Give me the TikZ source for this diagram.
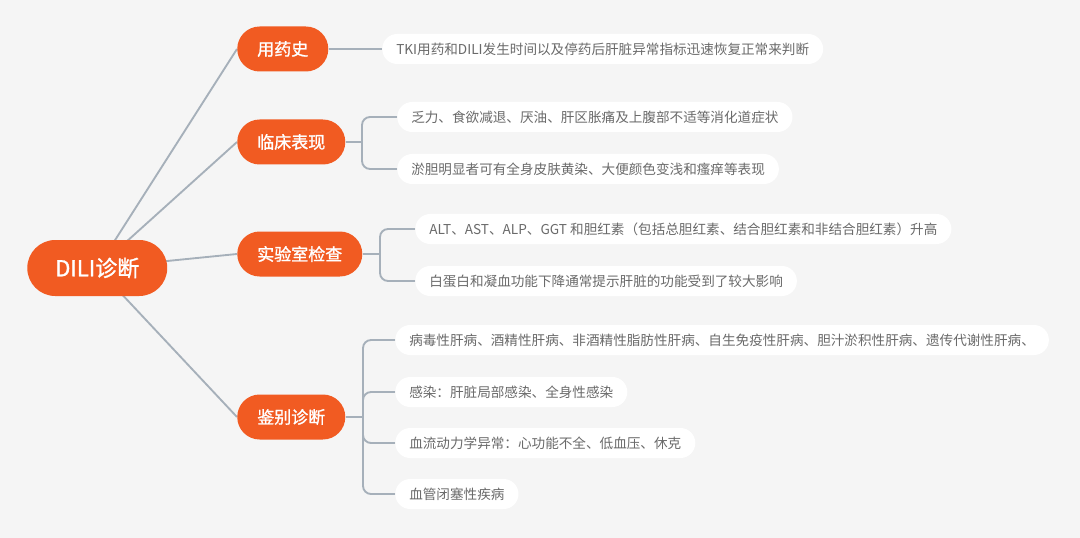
\documentclass[tikz,border=0pt]{standalone}
\usepackage{fontspec}
\setmainfont{Noto Sans CJK SC}
\newfontfamily\cjkbold[FakeBold=1.3]{Noto Sans CJK SC}
\usetikzlibrary{positioning}
\definecolor{bgc}{HTML}{F5F5F5}
\definecolor{org}{HTML}{F15B22}
\definecolor{lnc}{HTML}{A6B0BA}
\definecolor{txc}{HTML}{6A6A6A}
\pgfdeclarelayer{back}
\pgfdeclarelayer{bg}
\pgfsetlayers{back,bg,main}
\tikzset{
  rootbox/.style={rectangle, rounded corners=21pt, fill=org, text=white, font=\cjkbold\fontsize{16.5}{19}\selectfont, minimum height=42pt, inner xsep=21pt, inner ysep=0pt, anchor=west},
  branchbox/.style={rectangle, rounded corners=16.8pt, fill=org, text=white, font=\cjkbold\fontsize{12.75}{15}\selectfont, minimum height=33.75pt, inner xsep=15pt, inner ysep=0pt, anchor=west},
  leafbox/.style={rectangle, rounded corners=11.2pt, fill=white, text=txc, font=\fontsize{10.2}{12}\selectfont, minimum height=22.5pt, inner xsep=10.5pt, inner ysep=0pt, anchor=west},
  conn/.style={draw=lnc, line width=1.4pt},
}
\begin{document}
\begin{tikzpicture}[x=0.75pt,y=-0.75pt]
\begin{pgfonlayer}{back}
\fill[bgc] (0,0) rectangle (1080,538);
\end{pgfonlayer}
\useasboundingbox (0,0) rectangle (1080,538);

\node[rootbox] (root) at (27,268) {DILI诊断};

\node[branchbox] (b1) at (237,49) {用药史};
\node[branchbox] (b2) at (237,142) {临床表现};
\node[branchbox] (b3) at (237,254) {实验室检查};
\node[branchbox] (b4) at (237,417) {鉴别诊断};

\node[leafbox] (l1) at (382,49) {TKI用药和DILI发生时间以及停药后肝脏异常指标迅速恢复正常来判断};
\node[leafbox] (l2a) at (397,117) {乏力、食欲减退、厌油、肝区胀痛及上腹部不适等消化道症状};
\node[leafbox] (l2b) at (397,169) {淤胆明显者可有全身皮肤黄染、大便颜色变浅和瘙痒等表现};
\node[leafbox] (l3a) at (415,229) {ALT、AST、ALP、GGT 和胆红素（包括总胆红素、结合胆红素和非结合胆红素）升高};
\node[leafbox] (l3b) at (415,281) {白蛋白和凝血功能下降通常提示肝脏的功能受到了较大影响};
\node[leafbox] (l4a) at (395,340) {病毒性肝病、酒精性肝病、非酒精性脂肪性肝病、自生免疫性肝病、胆汁淤积性肝病、遗传代谢性肝病、};
\node[leafbox] (l4b) at (395,392) {感染：肝脏局部感染、全身性感染};
\node[leafbox] (l4c) at (395,443) {血流动力学异常：心功能不全、低血压、休克};
\node[leafbox] (l4d) at (395,494) {血管闭塞性疾病};

\coordinate (s2) at (362,142);
\coordinate (s3) at (380,254);
\coordinate (s4) at (363,417);

\begin{pgfonlayer}{bg}
\draw[conn] (root.center) -- (b1.west);
\draw[conn] (root.center) -- (b2.west);
\draw[conn] (root.center) -- (b3.west);
\draw[conn] (root.center) -- (b4.west);
\draw[conn] (b1.east) -- (l1.west);
\draw[conn] (b2.east) -- (s2);
\draw[conn,rounded corners=6pt] (s2) |- (l2a.west);
\draw[conn,rounded corners=6pt] (s2) |- (l2b.west);
\draw[conn] (b3.east) -- (s3);
\draw[conn,rounded corners=6pt] (s3) |- (l3a.west);
\draw[conn,rounded corners=6pt] (s3) |- (l3b.west);
\draw[conn] (b4.east) -- (s4);
\draw[conn,rounded corners=6pt] (s4) |- (l4a.west);
\draw[conn,rounded corners=6pt] (s4) |- (l4b.west);
\draw[conn,rounded corners=6pt] (s4) |- (l4c.west);
\draw[conn,rounded corners=6pt] (s4) |- (l4d.west);
\end{pgfonlayer}
\end{tikzpicture}
\end{document}
